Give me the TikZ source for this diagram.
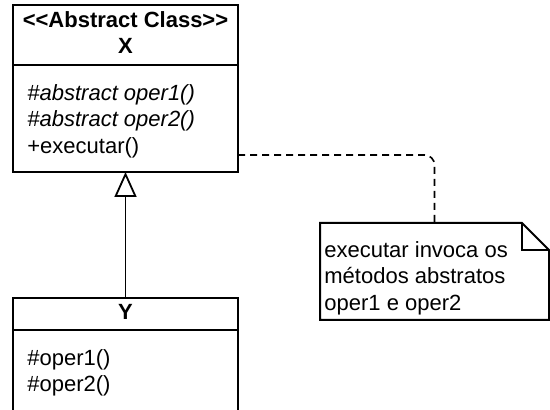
\documentclass[tikz,border=0pt]{standalone}
\usepackage{fontspec}
\setmainfont{Liberation Sans}
\usetikzlibrary{positioning,arrows.meta}
\tikzset{
  every node/.style={font=\fontsize{11}{13.3}\selectfont},
  box/.style={draw, line width=1pt, minimum width=112.5pt, inner sep=0pt, outer sep=0pt},
  ops/.style={align=left, anchor=north west, inner sep=0pt},
  herda/.style={-{Triangle[open, width=11pt, length=12.5pt]}, line width=0.9pt},
  liga/.style={dashed, dash pattern=on 3.5pt off 2.5pt, line width=0.8pt, rounded corners=5pt},
}

\begin{document}
\begin{tikzpicture}[x=0.5pt, y=-0.5pt]
  \clip (0,0) rectangle (550,410);

  % classe abstrata X
  \node[box, minimum height=30pt] (xhead) at (125.5,35) {};
  \node[box, minimum height=53.5pt, below=0pt of xhead] (xbody) {};
  \node[font=\fontsize{11}{13.3}\selectfont\bfseries, align=center, anchor=north, inner sep=0pt]
    (xtitle) at (125.5,11) {<\kern0pt<Abstract Class>\kern0pt>\\X};
  \node[ops] (xops) at (27,84)
    {\itshape\#abstract oper1()\\\itshape\#abstract oper2()\\+executar()};

  % classe concreta Y
  \node[box, minimum height=16pt] (yhead) at (125.5,314) {};
  \node[box, minimum height=50pt, below=0pt of yhead] (ybody) {};
  \node[font=\fontsize{11}{13.3}\selectfont\bfseries, anchor=base] (ytitle)
    at ([yshift=-3pt]yhead.center) {Y};
  \node[ops] (yops) at (27,349) {\#oper1()\\\#oper2()};

  % nota
  \node[minimum width=114.5pt, minimum height=48.5pt, inner sep=0pt, outer sep=0pt] (nota) at (434.5,271.5) {};
  \draw[line width=1pt]
    (nota.north west) -- ([xshift=-13.5pt]nota.north east)
    -- ([yshift=-13.5pt]nota.north east) -- (nota.south east)
    -- (nota.south west) -- cycle;
  \draw[line width=1pt] ([xshift=-13.5pt]nota.north east) |- ([yshift=-13.5pt]nota.north east);
  \node[ops] (notatxt) at (324,241)
    {executar invoca os\\métodos abstratos\\oper1 e oper2};

  \path
    (yhead.north) edge[herda] (xbody.south);
  \draw[liga] ([yshift=8.5pt]xbody.south east) -| (nota.north);
\end{tikzpicture}
\end{document}
